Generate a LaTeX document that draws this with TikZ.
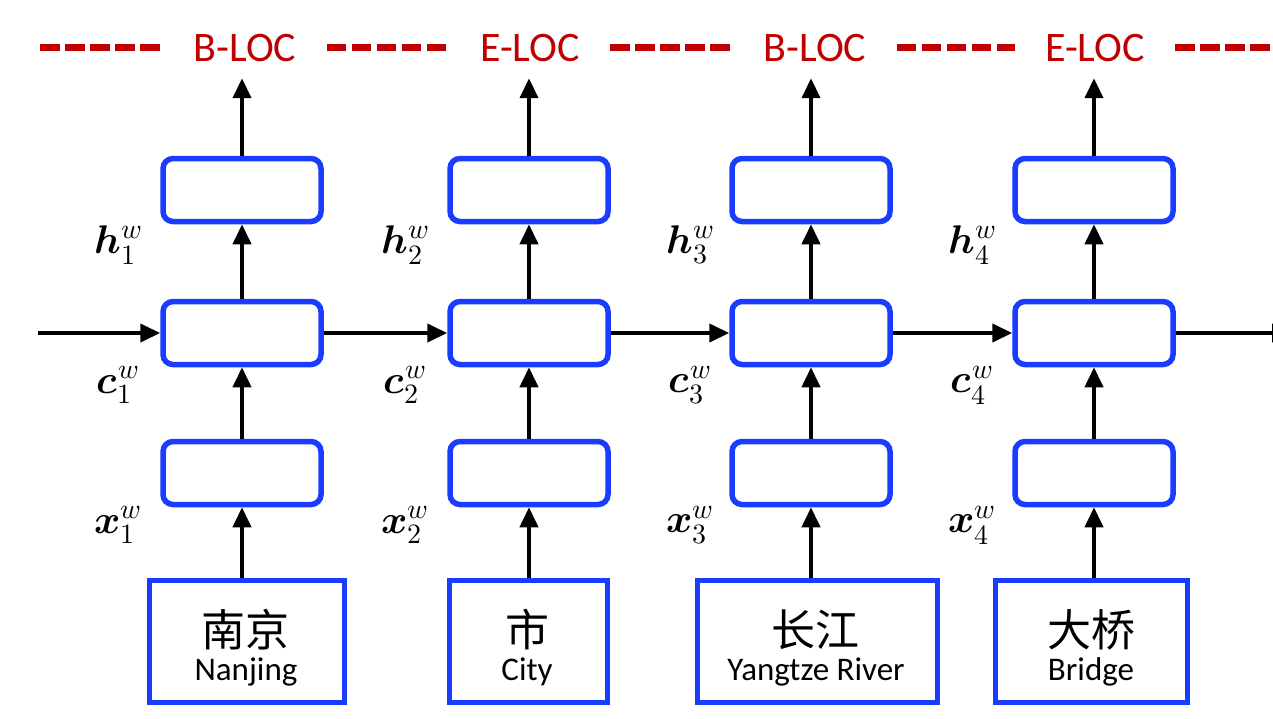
\documentclass[tikz,border=0pt]{standalone}
\usepackage{fontspec}
\usepackage{unicode-math}
\setmainfont{Carlito}
\setmathfont{Latin Modern Math}
\newfontfamily\cjk{Noto Sans CJK SC}
\usetikzlibrary{arrows.meta}
\definecolor{myblue}{RGB}{25,60,255}
\definecolor{myred}{RGB}{192,0,0}
\tikzset{
  cell/.style={draw=myblue, line width=5.5pt, rounded corners=10pt, minimum width=158pt, minimum height=63pt, inner sep=0pt},
  wordbox/.style={draw=myblue, line width=5.5pt, minimum height=122pt, inner sep=0pt, align=center},
  arr/.style={line width=4pt, -{Triangle[length=20pt,width=18pt]}},
  tag/.style={text=myred, font=\fontsize{42}{46}\selectfont, inner xsep=30pt, inner ysep=0pt, text height=28pt, text depth=0pt},
  dashln/.style={myred, line width=7pt, dash pattern=on 19.5pt off 5.5pt},
  lab/.style={font=\fontsize{40}{44}\selectfont, inner sep=0pt},
  zh/.style={font=\cjk\fontsize{44}{48}\selectfont},
  en/.style={font=\fontsize{33}{36}\selectfont}
}
\begin{document}
\begin{tikzpicture}[x=1pt,y=-1pt]
\useasboundingbox[fill=white] (0,0) rectangle (1273,718);

% tags
\node[tag] (l1) at (245,47) {B-LOC};
\node[tag] (l2) at (530,47) {E-LOC};
\node[tag] (l3) at (815,47) {B-LOC};
\node[tag] (l4) at (1095,47) {E-LOC};
\coordinate (d0) at (40,47);
\coordinate (d5) at (1290,47);
\draw[dashln] (d0) -- (l1.west);
\draw[dashln] (l1.east) -- (l2.west);
\draw[dashln] (l2.east) -- (l3.west);
\draw[dashln] (l3.east) -- (l4.west);
\draw[dashln] (l4.east) -- (d5);

% cells
\foreach \i/\x in {1/242,2/529,3/811,4/1094}{
  \node[cell] (t\i) at (\x,190) {};
  \node[cell] (m\i) at (\x,333) {};
  \node[cell] (b\i) at (\x,473) {};
}

% word boxes
\node[wordbox, minimum width=195pt] (w1) at (247,641.5) {};
\node[wordbox, minimum width=158pt] (w2) at (528.5,641.5) {};
\node[wordbox, minimum width=240pt] (w3) at (817.5,641.5) {};
\node[wordbox, minimum width=192pt] (w4) at (1091.5,641.5) {};

\node[zh] (z1) at (245,630) {南京};
\node[en] (e1) at (246,672) {Nanjing};
\node[zh] (z2) at (527,630) {市};
\node[en] (e2) at (527,672) {City};
\node[zh] (z3) at (815,630) {长江};
\node[en] (e3) at (816,672) {Yangtze River};
\node[zh] (z4) at (1091,630) {大桥};
\node[en] (e4) at (1091,672) {Bridge};

% vertical arrows
\foreach \i in {1,2,3,4}{
  \draw[arr] (w\i.north -| b\i) -- (b\i.south);
  \draw[arr] (b\i) -- (m\i);
  \draw[arr] (m\i) -- (t\i);
  \draw[arr, shorten >=17pt] (t\i.north) -- (l\i.south -| t\i);
}

% horizontal arrows
\coordinate (h0) at (38,333);
\coordinate (h5) at (1292,333);
\draw[arr] (h0) -- (m1.west);
\draw[arr] (m1.east) -- (m2.west);
\draw[arr] (m2.east) -- (m3.west);
\draw[arr] (m3.east) -- (m4.west);
\draw[arr] (m4.east) -- (h5);

% math labels
\foreach \i/\x in {1/118,2/405,3/690,4/972}{
  \node[lab] (hl\i) at (\x,245) {$\symbfit{h}_{\i}^{w}$};
  \node[lab] (cl\i) at (\x,385) {$\symbfit{c}_{\i}^{w}$};
  \node[lab] (xl\i) at (\x,525) {$\symbfit{x}_{\i}^{w}$};
}
\end{tikzpicture}
\end{document}
